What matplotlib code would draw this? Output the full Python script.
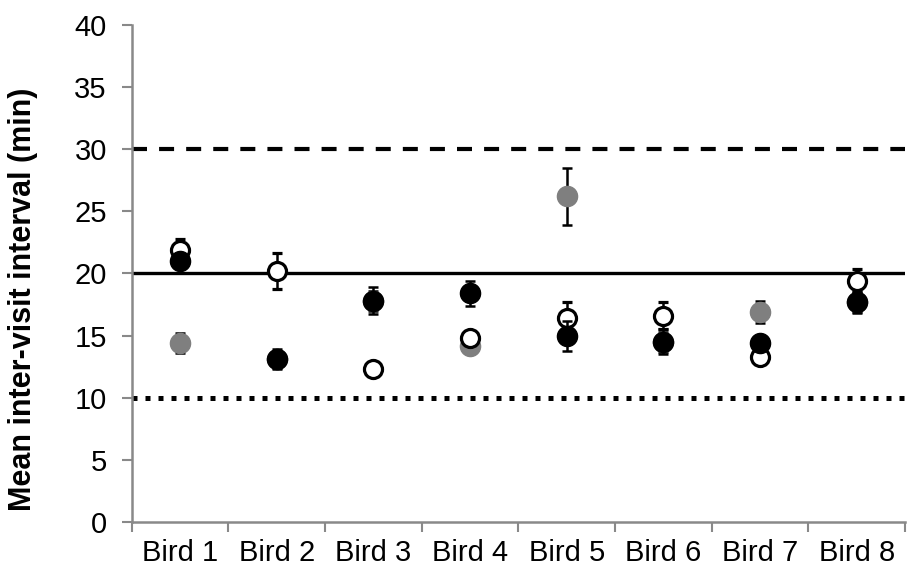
import matplotlib
matplotlib.use("Agg")
import matplotlib.pyplot as plt
import numpy as np

plt.rcParams['font.family'] = ['Liberation Sans', 'DejaVu Sans']

birds = ["Bird 1", "Bird 2", "Bird 3", "Bird 4", "Bird 5", "Bird 6", "Bird 7", "Bird 8"]

gray_mean = [14.4, 13.1, 17.8, 14.2, 26.2, 14.5, 16.9, 17.7]
gray_err = [0.8, 0.7, 0.8, 0.5, 2.3, 0.8, 0.9, 0.8]

open_mean = [21.9, 20.2, 12.3, 14.8, 16.4, 16.6, 13.3, 19.4]
open_err = [0.9, 1.45, 0.3, 0.5, 1.3, 1.1, 0.4, 1.0]

black_mean = [21.0, 13.1, 17.8, 18.4, 15.0, 14.5, 14.4, 17.7]
black_err = [0.5, 0.8, 1.1, 1.0, 1.2, 1.0, 0.5, 0.9]

ref_lines = [30, 20, 10]

fig = plt.figure(figsize=(9.09, 5.75), dpi=100)
ax = fig.add_axes([0.145, 0.0922, 0.8506, 0.8643])

x = np.arange(len(birds))
axis_gray = "#898989"

ax.axhline(ref_lines[0], color="black", lw=3, linestyle=(0, (3.6, 2.9)), zorder=1)
ax.axhline(ref_lines[1], color="black", lw=2.4, zorder=1)
ax.axhline(ref_lines[2], color="black", lw=3.6, linestyle=(0, (1, 1.6)), zorder=1)

eb = dict(ecolor="black", elinewidth=1.8, capsize=3.8, capthick=1.8, linestyle="none")
ax.errorbar(x, gray_mean, yerr=gray_err, marker="o", ms=14.5, mfc="#7f7f7f", mec="#7f7f7f",
            zorder=2, **eb)
ax.errorbar(x, open_mean, yerr=open_err, marker="o", ms=13, mfc="white", mec="black",
            mew=2.3, zorder=3, **eb)
ax.errorbar(x, black_mean, yerr=black_err, marker="o", ms=14.5, mfc="black", mec="black",
            zorder=4, **eb)

ax.set_xlim(-0.5, len(birds) - 0.5)
ax.set_ylim(0, 40)
ax.set_yticks(np.arange(0, 41, 5))
ax.set_xticks(x)
ax.set_xticklabels(birds, fontsize=21)
ax.set_xticks(np.arange(-0.5, len(birds), 1), minor=True)
ax.tick_params(axis="x", which="major", length=0, pad=12)
ax.tick_params(axis="x", which="minor", length=7, width=1.5, color=axis_gray)
ax.tick_params(axis="y", length=7, width=1.5, color=axis_gray, labelsize=21, pad=11)

for s in ["top", "right"]:
    ax.spines[s].set_visible(False)
for s in ["left", "bottom"]:
    ax.spines[s].set_color(axis_gray)
    ax.spines[s].set_linewidth(1.8)

ax.set_ylabel("Mean inter-visit interval (min)", fontsize=22, fontweight="bold",
              va="center")
ax.yaxis.set_label_coords(-0.141, 0.449)

fig.savefig("out.png", dpi=100)
